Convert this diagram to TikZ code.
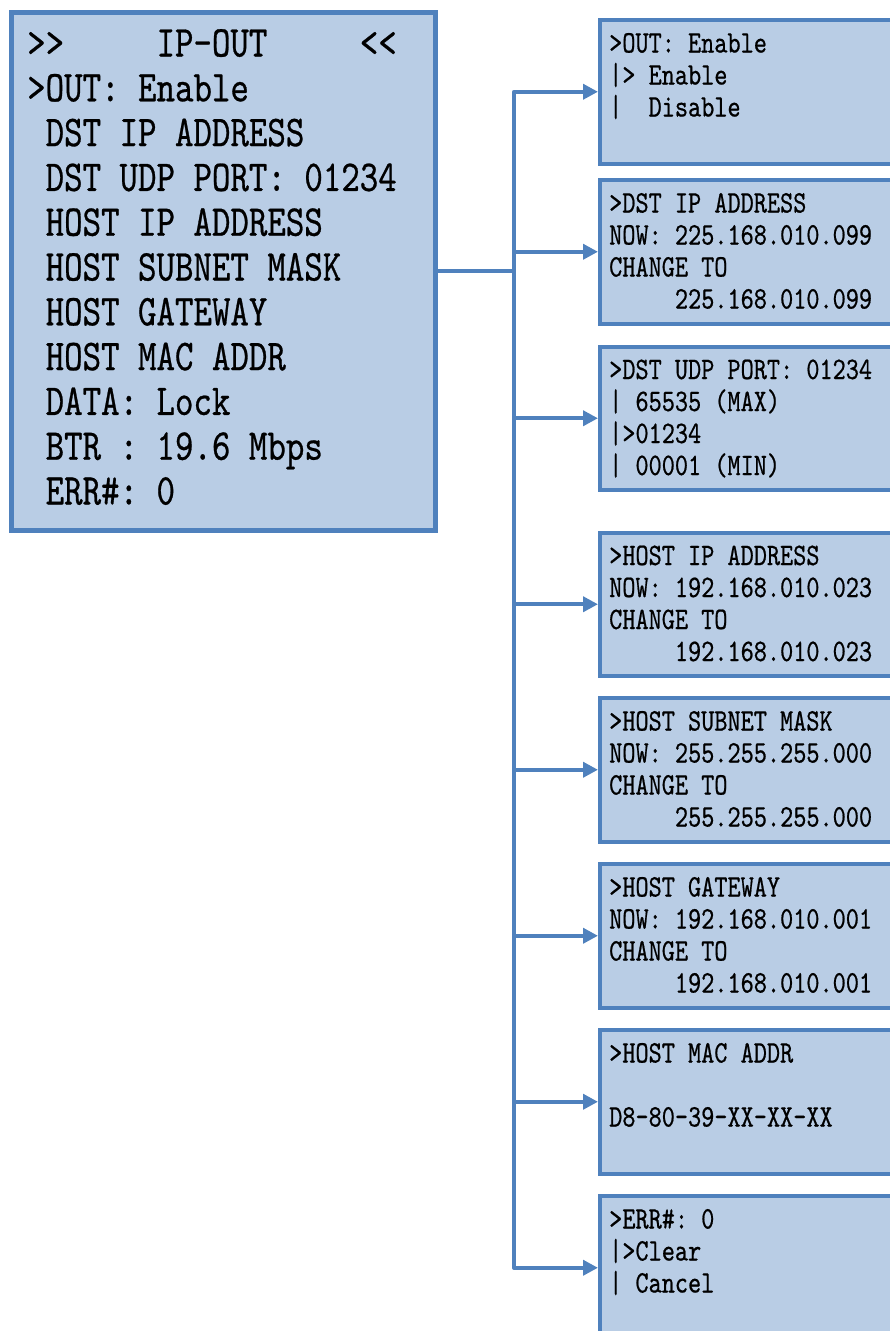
\documentclass[tikz,border=0pt]{standalone}
\usepackage{fontspec}
\usetikzlibrary{arrows.meta}
\newfontfamily\lcdfont{lmmono10-regular}[Extension=.otf, FakeStretch=0.80, FakeBold=0.6]
\definecolor{panelfill}{RGB}{185,205,229}
\definecolor{paneledge}{RGB}{79,129,189}

\newcommand\panellines[2]{%
  \foreach \row [count=\j] in {#2}
    \node[smalltext] (p#1-\j) at ([xshift=11pt,yshift=-34.5pt]p#1.north west) [yshift={-32pt*(\j-1)}] {\row};}

\begin{document}
\begin{tikzpicture}[x=1pt,y=-1pt,
  mainpanel/.style={draw=paneledge, fill=panelfill, line width=5pt,
    minimum width=423.5pt, minimum height=517.5pt, anchor=north west, inner sep=0pt},
  subpanel/.style={draw=paneledge, fill=panelfill, line width=4pt,
    minimum width=330pt, minimum height=143.5pt, anchor=north west, inner sep=0pt},
  bigtext/.style={font=\lcdfont\fontsize{44}{45}\selectfont, anchor=base west, inner sep=0pt},
  smalltext/.style={font=\lcdfont\fontsize{31.3}{32}\selectfont, anchor=base west, inner sep=0pt},
  link/.style={draw=paneledge, line width=4pt, line join=round},
  tip/.tip={Triangle[length=15pt,width=15pt]},
]
\clip (0,0) rectangle (890,1331);

% main menu screen
\node[mainpanel] (menu) at (9,10) {};
\foreach \row [count=\i] in {%
  >{}>~~~~~IP-OUT~~~~~<{}<,
  >OUT:~Enable,
  ~DST~IP~ADDRESS,
  ~DST~UDP~PORT:~01234,
  ~HOST~IP~ADDRESS,
  ~HOST~SUBNET~MASK,
  ~HOST~GATEWAY,
  ~HOST~MAC~ADDR,
  ~DATA:~Lock,
  ~BTR~:~19.6~Mbps,
  ~ERR\#:~0}
  \node[bigtext] (menu-\i) at (27,{56.5+44.8*(\i-1)}) {\row};

% sub-menu screens
\foreach \top [count=\k] in {18,178,344.5,530.5,696,862,1028,1194}
  \node[subpanel] (p\k) at (598,\top) {};

\panellines{1}{>OUT:~Enable, |>~Enable, |~~Disable}
\panellines{2}{>DST~IP~ADDRESS, NOW:~225.168.010.099, CHANGE~TO, ~~~~~225.168.010.099}
\panellines{3}{>DST~UDP~PORT:~01234, |~65535~(MAX), |>01234, |~00001~(MIN)}
\panellines{4}{>HOST~IP~ADDRESS, NOW:~192.168.010.023, CHANGE~TO, ~~~~~192.168.010.023}
\panellines{5}{>HOST~SUBNET~MASK, NOW:~255.255.255.000, CHANGE~TO, ~~~~~255.255.255.000}
\panellines{6}{>HOST~GATEWAY, NOW:~192.168.010.001, CHANGE~TO, ~~~~~192.168.010.001}
\panellines{7}{>HOST~MAC~ADDR, {}, D8-80-39-XX-XX-XX}
\panellines{8}{>ERR\#:~0, |>Clear, |~Cancel}

% connectors
\coordinate (bus) at (514,0);
\draw[link] (menu.east) -- (bus |- menu.east);
\draw[link, tip-tip] (p1.west) -- (bus |- p1.west) -- (bus |- p8.west) -- (p8.west);
\foreach \k in {2,...,7}
  \draw[link, -tip] (bus |- p\k.west) -- (p\k.west);
\end{tikzpicture}
\end{document}
